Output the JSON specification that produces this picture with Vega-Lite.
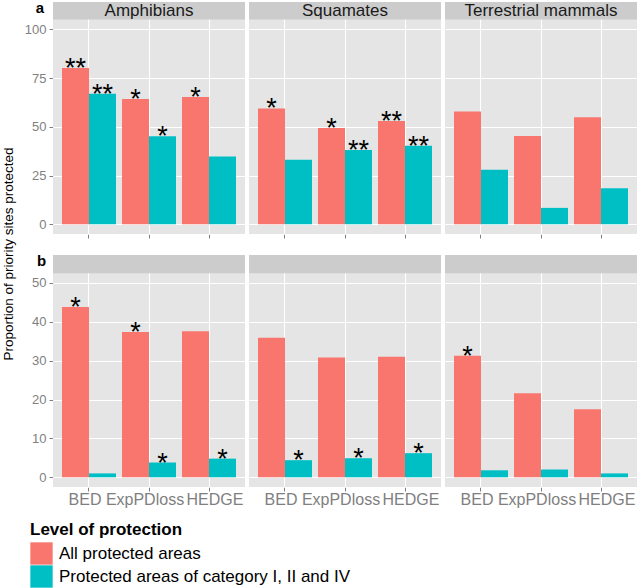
{
  "$schema": "https://vega.github.io/schema/vega-lite/v6.json",
  "background": "white",
  "padding": {"left": 1, "top": 0, "right": 0, "bottom": 0},
  "title": {"text": "Proportion of priority sites protected", "orient": "left", "anchor": "middle", "fontSize": 13.5, "fontWeight": "normal", "color": "black", "offset": 9, "dx": 40},
  "data": {"values": [
    {"panel": "a", "taxon": "Amphibians", "metric": "BED", "level": "All protected areas", "value": 80.2, "sig": "**"},
    {"panel": "a", "taxon": "Amphibians", "metric": "BED", "level": "Protected areas of category I, II and IV", "value": 66.9, "sig": "**"},
    {"panel": "a", "taxon": "Amphibians", "metric": "ExpPDloss", "level": "All protected areas", "value": 64.3, "sig": "*"},
    {"panel": "a", "taxon": "Amphibians", "metric": "ExpPDloss", "level": "Protected areas of category I, II and IV", "value": 45.1, "sig": "*"},
    {"panel": "a", "taxon": "Amphibians", "metric": "HEDGE", "level": "All protected areas", "value": 65.3, "sig": "*"},
    {"panel": "a", "taxon": "Amphibians", "metric": "HEDGE", "level": "Protected areas of category I, II and IV", "value": 34.7, "sig": ""},
    {"panel": "a", "taxon": "Squamates", "metric": "BED", "level": "All protected areas", "value": 59.4, "sig": "*"},
    {"panel": "a", "taxon": "Squamates", "metric": "BED", "level": "Protected areas of category I, II and IV", "value": 33.1, "sig": ""},
    {"panel": "a", "taxon": "Squamates", "metric": "ExpPDloss", "level": "All protected areas", "value": 49.4, "sig": "*"},
    {"panel": "a", "taxon": "Squamates", "metric": "ExpPDloss", "level": "Protected areas of category I, II and IV", "value": 38.1, "sig": "**"},
    {"panel": "a", "taxon": "Squamates", "metric": "HEDGE", "level": "All protected areas", "value": 53.0, "sig": "**"},
    {"panel": "a", "taxon": "Squamates", "metric": "HEDGE", "level": "Protected areas of category I, II and IV", "value": 40.3, "sig": "**"},
    {"panel": "a", "taxon": "Terrestrial mammals", "metric": "BED", "level": "All protected areas", "value": 57.8, "sig": ""},
    {"panel": "a", "taxon": "Terrestrial mammals", "metric": "BED", "level": "Protected areas of category I, II and IV", "value": 28.0, "sig": ""},
    {"panel": "a", "taxon": "Terrestrial mammals", "metric": "ExpPDloss", "level": "All protected areas", "value": 45.3, "sig": ""},
    {"panel": "a", "taxon": "Terrestrial mammals", "metric": "ExpPDloss", "level": "Protected areas of category I, II and IV", "value": 8.4, "sig": ""},
    {"panel": "a", "taxon": "Terrestrial mammals", "metric": "HEDGE", "level": "All protected areas", "value": 54.9, "sig": ""},
    {"panel": "a", "taxon": "Terrestrial mammals", "metric": "HEDGE", "level": "Protected areas of category I, II and IV", "value": 18.5, "sig": ""},
    {"panel": "b", "taxon": "Amphibians", "metric": "BED", "level": "All protected areas", "value": 43.8, "sig": "*"},
    {"panel": "b", "taxon": "Amphibians", "metric": "BED", "level": "Protected areas of category I, II and IV", "value": 1.0, "sig": ""},
    {"panel": "b", "taxon": "Amphibians", "metric": "ExpPDloss", "level": "All protected areas", "value": 37.4, "sig": "*"},
    {"panel": "b", "taxon": "Amphibians", "metric": "ExpPDloss", "level": "Protected areas of category I, II and IV", "value": 3.8, "sig": "*"},
    {"panel": "b", "taxon": "Amphibians", "metric": "HEDGE", "level": "All protected areas", "value": 37.6, "sig": ""},
    {"panel": "b", "taxon": "Amphibians", "metric": "HEDGE", "level": "Protected areas of category I, II and IV", "value": 4.8, "sig": "*"},
    {"panel": "b", "taxon": "Squamates", "metric": "BED", "level": "All protected areas", "value": 35.9, "sig": ""},
    {"panel": "b", "taxon": "Squamates", "metric": "BED", "level": "Protected areas of category I, II and IV", "value": 4.4, "sig": "*"},
    {"panel": "b", "taxon": "Squamates", "metric": "ExpPDloss", "level": "All protected areas", "value": 30.8, "sig": ""},
    {"panel": "b", "taxon": "Squamates", "metric": "ExpPDloss", "level": "Protected areas of category I, II and IV", "value": 4.9, "sig": "*"},
    {"panel": "b", "taxon": "Squamates", "metric": "HEDGE", "level": "All protected areas", "value": 31.0, "sig": ""},
    {"panel": "b", "taxon": "Squamates", "metric": "HEDGE", "level": "Protected areas of category I, II and IV", "value": 6.2, "sig": "*"},
    {"panel": "b", "taxon": "Terrestrial mammals", "metric": "BED", "level": "All protected areas", "value": 31.3, "sig": "*"},
    {"panel": "b", "taxon": "Terrestrial mammals", "metric": "BED", "level": "Protected areas of category I, II and IV", "value": 1.8, "sig": ""},
    {"panel": "b", "taxon": "Terrestrial mammals", "metric": "ExpPDloss", "level": "All protected areas", "value": 21.6, "sig": ""},
    {"panel": "b", "taxon": "Terrestrial mammals", "metric": "ExpPDloss", "level": "Protected areas of category I, II and IV", "value": 2.0, "sig": ""},
    {"panel": "b", "taxon": "Terrestrial mammals", "metric": "HEDGE", "level": "All protected areas", "value": 17.5, "sig": ""},
    {"panel": "b", "taxon": "Terrestrial mammals", "metric": "HEDGE", "level": "Protected areas of category I, II and IV", "value": 1.0, "sig": ""}
  ]},
  "vconcat": [
    {
      "transform": [{"filter": "datum.panel === 'a'"}],
      "facet": {"column": {"field": "taxon", "type": "nominal", "sort": ["Amphibians", "Squamates", "Terrestrial mammals"], "header": {"labels": false, "title": null}}},
      "spacing": 4,
      "spec": {
        "width": 192,
        "height": 232,
        "layer": [
          {
            "mark": {"type": "bar"},
            "encoding": {
              "x": {"field": "metric", "type": "nominal", "sort": ["BED", "ExpPDloss", "HEDGE"], "scale": {"paddingInner": 0.1, "paddingOuter": 0.15},
                "axis": {"title": null, "labels": false, "ticks": true, "tickSize": 4, "tickColor": "#7F7F7F", "grid": true, "gridColor": "white", "gridWidth": 1.1, "bandPosition": 0.5, "domain": false}},
              "xOffset": {"field": "level", "type": "nominal", "scale": {"paddingInner": 0, "paddingOuter": 0}},
              "y": {"field": "value", "type": "quantitative", "scale": {"domain": [-5, 114], "nice": false},
                "axis": {"title": "a", "titleAngle": 0, "titleX": -13.5, "titleY": 10, "titleAlign": "center", "titleBaseline": "alphabetic", "titleFontSize": 15, "titleFontWeight": "bold", "titleColor": "black",
                  "values": [0, 12.5, 25, 37.5, 50, 62.5, 75, 87.5, 100],
                  "labelExpr": "datum.value % 25 === 0 ? datum.label : ''",
                  "labelOverlap": false,
                  "grid": true,
                  "gridColor": {"condition": {"test": "datum.value % 25 === 0", "value": "white"}, "value": "#F2F2F2"},
                  "gridWidth": {"condition": {"test": "datum.value % 25 === 0", "value": 1.1}, "value": 0.5},
                  "tickColor": {"condition": {"test": "datum.value % 25 === 0", "value": "#7F7F7F"}, "value": "transparent"},
                  "tickSize": 4, "labelPadding": 3, "labelFontSize": 13, "labelColor": "#7F7F7F", "domain": false}},
              "color": {"field": "level", "type": "nominal", "title": "Level of protection",
                "scale": {"domain": ["All protected areas", "Protected areas of category I, II and IV"], "range": ["#F8766D", "#00BFC4"]}}
            }
          },
          {
            "transform": [{"filter": "datum.metric === 'BED' && datum.level === 'All protected areas'"}],
            "mark": {"type": "rect", "color": "#CCCCCC"},
            "encoding": {"y": {"datum": 105}, "y2": {"datum": 114}}
          },
          {
            "transform": [{"filter": "datum.metric === 'BED' && datum.level === 'All protected areas'"}],
            "mark": {"type": "text", "fontSize": 17, "color": "#1A1A1A", "baseline": "middle"},
            "encoding": {"x": {"datum": "ExpPDloss"}, "y": {"datum": 109.5}, "text": {"field": "taxon"}}
          },
          {
            "transform": [{"filter": "datum.sig !== ''"}],
            "mark": {"type": "text", "fontSize": 27, "baseline": "alphabetic", "dy": 9, "color": "black"},
            "encoding": {
              "x": {"field": "metric", "type": "nominal", "sort": ["BED", "ExpPDloss", "HEDGE"]},
              "xOffset": {"field": "level", "type": "nominal"},
              "y": {"field": "value", "type": "quantitative"},
              "text": {"field": "sig"}
            }
          }
        ]
      }
    },
    {
      "transform": [{"filter": "datum.panel === 'b'"}],
      "facet": {"column": {"field": "taxon", "type": "nominal", "sort": ["Amphibians", "Squamates", "Terrestrial mammals"], "header": {"labels": false, "title": null}}},
      "spacing": 4,
      "spec": {
        "width": 192,
        "height": 232,
        "layer": [
          {
            "mark": {"type": "bar"},
            "encoding": {
              "x": {"field": "metric", "type": "nominal", "sort": ["BED", "ExpPDloss", "HEDGE"], "scale": {"paddingInner": 0.1, "paddingOuter": 0.15},
                "axis": {"title": null, "labelAngle": 0, "labelFontSize": 16, "labelColor": "#7F7F7F", "labelPadding": 0, "labelOverlap": false, "labelBound": false,
                  "labelOffset": {"condition": {"test": "datum.value === 'HEDGE'", "value": 6}, "value": -4},
                  "ticks": true, "tickSize": 4, "tickColor": "#7F7F7F", "grid": true, "gridColor": "white", "gridWidth": 1.1, "bandPosition": 0.5, "domain": false}},
              "xOffset": {"field": "level", "type": "nominal", "scale": {"paddingInner": 0, "paddingOuter": 0}},
              "y": {"field": "value", "type": "quantitative", "scale": {"domain": [-2.5, 57.2], "nice": false},
                "axis": {"title": "b", "titleAngle": 0, "titleX": -12, "titleY": 10, "titleAlign": "center", "titleBaseline": "alphabetic", "titleFontSize": 15, "titleFontWeight": "bold", "titleColor": "black",
                  "values": [0, 5, 10, 15, 20, 25, 30, 35, 40, 45, 50],
                  "labelExpr": "datum.value % 10 === 0 ? datum.label : ''",
                  "labelOverlap": false,
                  "grid": true,
                  "gridColor": {"condition": {"test": "datum.value % 10 === 0", "value": "white"}, "value": "#F2F2F2"},
                  "gridWidth": {"condition": {"test": "datum.value % 10 === 0", "value": 1.1}, "value": 0.5},
                  "tickColor": {"condition": {"test": "datum.value % 10 === 0", "value": "#7F7F7F"}, "value": "transparent"},
                  "tickSize": 4, "labelPadding": 3, "labelFontSize": 13, "labelColor": "#7F7F7F", "domain": false}},
              "color": {"field": "level", "type": "nominal", "title": "Level of protection",
                "scale": {"domain": ["All protected areas", "Protected areas of category I, II and IV"], "range": ["#F8766D", "#00BFC4"]}}
            }
          },
          {
            "transform": [{"filter": "datum.metric === 'BED' && datum.level === 'All protected areas'"}],
            "mark": {"type": "rect", "color": "#CCCCCC"},
            "encoding": {"y": {"datum": 52.5}, "y2": {"datum": 57.2}}
          },
          {
            "transform": [{"filter": "datum.sig !== ''"}],
            "mark": {"type": "text", "fontSize": 27, "baseline": "alphabetic", "dy": 9, "color": "black"},
            "encoding": {
              "x": {"field": "metric", "type": "nominal", "sort": ["BED", "ExpPDloss", "HEDGE"]},
              "xOffset": {"field": "level", "type": "nominal"},
              "y": {"field": "value", "type": "quantitative"},
              "text": {"field": "sig"}
            }
          }
        ]
      }
    }
  ],
  "spacing": 14,
  "config": {
    "font": "Liberation Sans",
    "view": {"fill": "#E5E5E5", "stroke": null},
    "axis": {"domain": false},
    "legend": {"orient": "none", "legendX": -23, "legendY": 520, "direction": "vertical", "symbolType": "square", "symbolSize": 500, "symbolStrokeWidth": 0, "symbolOpacity": 1, "labelFontSize": 17, "labelColor": "black", "titleFontSize": 17, "titleFontWeight": "bold", "titleColor": "black", "rowPadding": 0, "labelOffset": 6, "titlePadding": 3, "padding": 0, "labelLimit": 400}
  }
}
